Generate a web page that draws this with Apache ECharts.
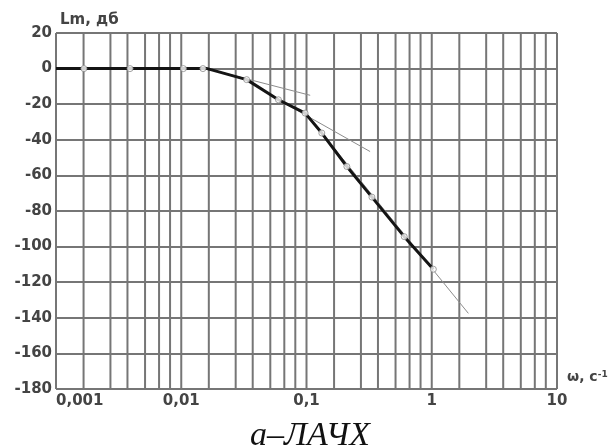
<!DOCTYPE html>
<html>
<head>
<meta charset="utf-8">
<script src="https://cdn.jsdelivr.net/npm/echarts@6/dist/echarts.min.js"></script>
<style>
  html, body { margin: 0; padding: 0; background: #fff; }
  #chart { width: 613px; height: 448px; }
</style>
</head>
<body>
<div id="chart"></div>
<script>
// Log-magnitude response: frequency ω (s^-1) and Lm (dB)
const curveW = [0.001, 0.0161, 0.0333, 0.0597, 0.0975, 0.1325, 0.21, 0.333, 0.603, 1.03];
const curveL = [0, 0, -6.2, -17.5, -25, -36.2, -55, -72.2, -94.4, -112.7];

// Computed points marked with circles
const markW = [0.00167, 0.0039, 0.0104, 0.0149, 0.0333, 0.0597, 0.0975, 0.1325, 0.21, 0.333, 0.603, 1.03];
const markL = [0, 0, 0, 0, -6.2, -17.5, -25, -36.2, -55, -72.2, -94.4, -112.7];

// Asymptotes (slopes in dB/dec)
const asym20W = [0.0161, 0.107];
const asym20L = [0, -15];
const asym40W = [0.0597, 0.322];
const asym40L = [-17.5, -46.6];
const asym60W = [0.1325, 1.96];
const asym60L = [-36.2, -137.5];
const asymNames = ['-20', '-40', '-60'];

// Axis labels
const xTickLabels = ['0,001', '0,01', '0,1', '1', '10'];
const yTicks = [20, 0, -20, -40, -60, -80, -100, -120, -140, -160, -180];

// Vertical grid rulings inside each decade
const gridFactors = [1, 1.66, 2.72, 3.72, 5.14, 6.65, 8.14];
const decades = [0.001, 0.01, 0.1, 1];

const FONT = 'DejaVu Sans';
const GRID_COLOR = '#767676';
const Y_MIN = -180, Y_MAX = 20;

const zip = (xs, ys) => xs.map((x, i) => [x, ys[i]]);

const gridX = [];
decades.forEach(d => gridFactors.forEach(f => gridX.push(d * f)));
gridX.push(10);

// one thin series per vertical ruling, spanning the full value range
const rulingSeries = gridX.map(v => ({
  type: 'line',
  data: [[v, Y_MIN], [v, Y_MAX]],
  symbol: 'none',
  lineStyle: { color: GRID_COLOR, width: 2 },
  z: 1,
  silent: true
}));

function asymSeries(ws, ls, name, labelPos, labelOffset) {
  const pts = zip(ws, ls);
  return {
    type: 'line',
    name: name,
    data: pts.map((p, i) => ({
      value: p,
      label: {
        show: i === pts.length - 1,
        formatter: name,
        position: labelPos,
        offset: labelOffset,
        distance: 2,
        color: '#666',
        fontSize: 9,
        fontFamily: FONT
      }
    })),
    symbol: 'none',
    lineStyle: { color: '#8c8c8c', width: 1 },
    z: 3,
    silent: true
  };
}

const chart = echarts.init(document.getElementById('chart'), null, { renderer: 'canvas' });

chart.setOption({
  animation: false,
  backgroundColor: '#fff',
  grid: { left: 56, right: 56, top: 33, bottom: 59, containLabel: false },
  xAxis: {
    type: 'log',
    logBase: 10,
    min: 0.001,
    max: 10,
    axisLine: { show: false },
    axisTick: { show: false },
    splitLine: { show: false },
    axisLabel: {
      margin: 5,
      color: '#444',
      fontSize: 15,
      fontWeight: 'bold',
      fontFamily: FONT,
      alignMinLabel: 'left',
      formatter: v => xTickLabels[Math.round(Math.log10(v)) + 3] || ''
    }
  },
  yAxis: {
    type: 'value',
    min: Y_MIN,
    max: Y_MAX,
    interval: 20,
    axisLine: { show: false },
    axisTick: { show: false },
    splitLine: { show: true, lineStyle: { color: GRID_COLOR, width: 2 } },
    axisLabel: {
      margin: 4,
      color: '#444',
      fontSize: 15,
      fontWeight: 'bold',
      fontFamily: FONT,
      formatter: v => (yTicks.indexOf(v) >= 0 ? String(v) : '')
    }
  },
  series: rulingSeries.concat([
    asymSeries(asym20W, asym20L, asymNames[0], 'right', [0, -4]),
    asymSeries(asym40W, asym40L, asymNames[1], 'right', [0, 0]),
    asymSeries(asym60W, asym60L, asymNames[2], 'top', [3, -6]),
    {
      type: 'line',
      data: zip(curveW, curveL),
      symbol: 'none',
      lineStyle: { color: '#141414', width: 3 },
      z: 4,
      silent: true
    },
    {
      type: 'scatter',
      data: zip(markW, markL),
      symbol: 'circle',
      symbolSize: 6,
      itemStyle: { color: '#fff', borderColor: '#8a8a8a', borderWidth: 1 },
      z: 5,
      silent: true
    }
  ]),
  graphic: [
    {
      type: 'text',
      left: 60,
      top: 13,
      style: {
        text: 'Lm, дб',
        fill: '#444',
        font: 'bold 15px "DejaVu Sans"'
      }
    },
    {
      type: 'text',
      left: 567,
      top: 370,
      style: {
        text: '{a|ω, с}{s|-1}',
        rich: {
          a: { fill: '#444', fontSize: 14, fontWeight: 'bold', fontFamily: FONT, verticalAlign: 'bottom' },
          s: { fill: '#444', fontSize: 9, fontWeight: 'bold', fontFamily: FONT, verticalAlign: 'top' }
        }
      }
    },
    {
      type: 'text',
      x: 310,
      y: 436,
      style: {
        text: 'а–ЛАЧХ',
        fill: '#111',
        font: 'italic 34px "Liberation Serif"',
        textAlign: 'center',
        textVerticalAlign: 'middle'
      }
    }
  ]
});
</script>
</body>
</html>
